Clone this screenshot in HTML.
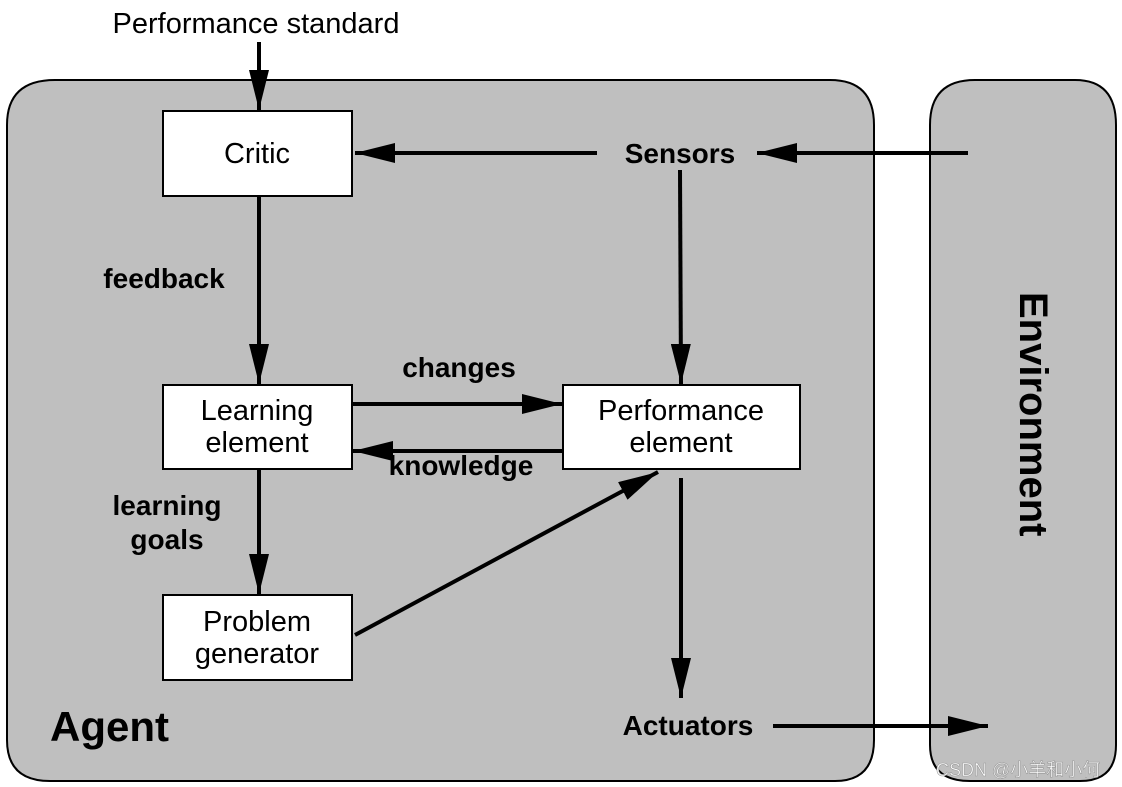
<!DOCTYPE html>
<html><head><meta charset="utf-8"><style>
body{margin:0;background:#fff;}
svg{display:block;font-family:"Liberation Sans",Arial,sans-serif;}
</style></head><body>
<svg width="1122" height="787" viewBox="0 0 1122 787" xmlns="http://www.w3.org/2000/svg">
<defs>
<marker id="a" viewBox="0 0 10 10" refX="10" refY="5" markerWidth="10" markerHeight="8" markerUnits="userSpaceOnUse" orient="auto" preserveAspectRatio="none">
<path d="M0,0 L10,5 L0,10 z" fill="#000"/></marker>
<marker id="b" viewBox="0 0 10 10" refX="10" refY="5" markerWidth="40" markerHeight="20" markerUnits="userSpaceOnUse" orient="auto" preserveAspectRatio="none">
<path d="M0,0 L10,5 L0,10 z" fill="#000"/></marker>
</defs>
<path d="M55,80 H830 Q874,80 874,125 V740 Q874,781 835,781 H50 Q7,781 7,740 V125 Q7,80 55,80 Z" fill="#bfbfbf" stroke="#000" stroke-width="2"/>
<path d="M975,80 H1075 Q1116,80 1116,125 V745 Q1116,781 1080,781 H970 Q930,781 930,745 V125 Q930,80 975,80 Z" fill="#bfbfbf" stroke="#000" stroke-width="2"/>
<g fill="#fff" stroke="#000" stroke-width="2">
<rect x="163" y="111" width="189" height="85"/>
<rect x="163" y="385" width="189" height="84"/>
<rect x="563" y="385" width="237" height="84"/>
<rect x="163" y="595" width="189" height="85"/>
</g>
<g stroke="#000" stroke-width="4" fill="none">
<line x1="259" y1="42" x2="259" y2="110" marker-end="url(#b)"/>
<line x1="968" y1="153" x2="757" y2="153" marker-end="url(#b)"/>
<line x1="597" y1="153" x2="355" y2="153" marker-end="url(#b)"/>
<line x1="680" y1="170" x2="681" y2="384" marker-end="url(#b)"/>
<line x1="259" y1="197" x2="259" y2="384" marker-end="url(#b)"/>
<line x1="353" y1="404" x2="562" y2="404" marker-end="url(#b)"/>
<line x1="563" y1="451" x2="353" y2="451" marker-end="url(#b)"/>
<line x1="259" y1="470" x2="259" y2="594" marker-end="url(#b)"/>
<line x1="355" y1="635" x2="658" y2="472" marker-end="url(#b)"/>
<line x1="681" y1="478" x2="681" y2="698" marker-end="url(#b)"/>
<line x1="773" y1="726" x2="988" y2="726" marker-end="url(#b)"/>
</g>
<g font-size="29" fill="#000" text-anchor="middle">
<text x="256" y="33">Performance standard</text>
<text x="257" y="163">Critic</text>
<text x="257" y="420">Learning</text>
<text x="257" y="452">element</text>
<text x="681" y="420">Performance</text>
<text x="681" y="452">element</text>
<text x="257" y="631">Problem</text>
<text x="257" y="663">generator</text>
</g>
<g font-size="28" font-weight="bold" fill="#000" text-anchor="middle">
<text x="680" y="163">Sensors</text>
<text x="164" y="288">feedback</text>
<text x="459" y="377">changes</text>
<text x="461" y="475">knowledge</text>
<text x="167" y="515">learning</text>
<text x="167" y="549">goals</text>
<text x="688" y="735">Actuators</text>
</g>
<text x="50" y="741" font-size="42" font-weight="bold">Agent</text>
<text transform="translate(1020,292) rotate(90)" font-size="40" font-weight="bold">Environment</text>
<text x="936" y="776" font-size="18" fill="#fff" stroke="#999" stroke-width="0.6" font-family="Liberation Sans,'Noto Sans CJK SC',sans-serif">CSDN @小羊和小何</text>
</svg>
</body></html>
